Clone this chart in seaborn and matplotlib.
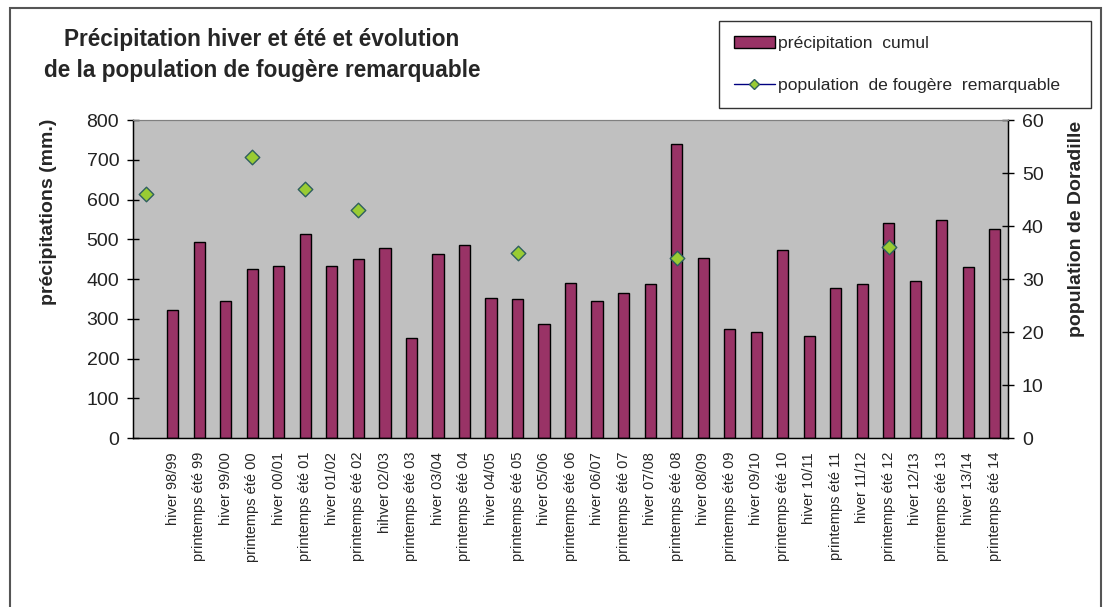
import numpy as np
import matplotlib
matplotlib.use("Agg")
import matplotlib.pyplot as plt
from matplotlib.patches import Patch, Rectangle
from matplotlib.lines import Line2D
import seaborn as sns

# categories (first slot is empty, only holds a population point)
periods = ["", "hiver 98/99", "printemps été 99", "hiver 99/00", "printemps été 00",
           "hiver 00/01", "printemps été 01", "hiver 01/02", "printemps été 02",
           "hihver 02/03", "printemps été 03", "hiver 03/04", "printemps été 04",
           "hiver 04/05", "printemps été 05", "hiver 05/06", "printemps été 06",
           "hiver 06/07", "printemps été 07", "hiver 07/08", "printemps été 08",
           "hiver 08/09", "printemps été 09", "hiver 09/10", "printemps été 10",
           "hiver 10/11", "printemps été 11", "hiver 11/12", "printemps été 12",
           "hiver 12/13", "printemps été 13", "hiver 13/14", "printemps été 14"]
precip = [np.nan, 322, 494, 344, 426, 433, 512, 433, 450, 479, 252, 463, 485,
          352, 349, 288, 390, 344, 366, 387, 740, 454, 273, 267, 472, 257,
          377, 387, 540, 395, 549, 429, 527]
pop_periods = ["", "printemps été 00", "printemps été 01", "printemps été 02",
               "printemps été 05", "printemps été 08", "printemps été 12"]
pop_values = [46, 53, 47, 43, 35, 34, 36]

bar_color = "#993366"
pt_color = "#99CC33"
pt_edge = "#2F5F5F"

sns.set_style("white")
plt.rcParams["font.family"] = ["Liberation Sans", "DejaVu Sans"]

fig = plt.figure(figsize=(11.06, 6.07), dpi=100)
ax = fig.add_axes([0.1203, 0.2784, 0.7911, 0.5239])
ax.set_facecolor("#C0C0C0")

sns.barplot(x=periods, y=precip, order=periods, color=bar_color, saturation=1,
            width=0.42, edgecolor="black", linewidth=1, ax=ax)

n = len(periods)
ax.set_xlim(-0.5, n - 0.5)
ax.set_ylim(0, 800)
ax.set_yticks(range(0, 801, 100))
ax.set_xticks(range(n))
ax.set_xticklabels(periods, rotation=90, fontsize=10.5, va="top", ha="center")
ax.set_xticks(np.arange(n + 1) - 0.5, minor=True)
ax.tick_params(axis="x", which="major", length=0, pad=10)
ax.tick_params(axis="x", which="minor", length=7, direction="inout", width=1, color="black")
ax.tick_params(axis="y", length=8, direction="inout", width=1, color="black", labelsize=14,
               labelcolor="#222222", pad=6)
ax.set_ylabel("précipitations (mm.)", fontsize=14, fontweight="bold")
ax.yaxis.set_label_coords(-0.087, 0.712)
ax.set_xlabel("")
for s in ["left", "bottom", "right"]:
    ax.spines[s].set_color("black")
    ax.spines[s].set_linewidth(1)
ax.spines["top"].set_color("#808080")

ax2 = ax.twinx()
pop_x = [periods.index(p) for p in pop_periods]
sns.scatterplot(x=pop_x, y=pop_values, marker="D", s=55, color=pt_color,
                edgecolor=pt_edge, linewidth=1, ax=ax2, zorder=5)
ax2.set_ylim(0, 60)
ax2.set_yticks(range(0, 61, 10))
ax2.tick_params(axis="y", length=8, direction="inout", width=1, color="black", labelsize=14,
                labelcolor="#222222", pad=6)
ax2.set_ylabel("population de Doradille", fontsize=14, fontweight="bold")
ax2.yaxis.set_label_coords(1.068, 0.657)
ax2.set_xlim(-0.5, n - 0.5)
for s in ["left", "bottom", "right"]:
    ax2.spines[s].set_color("black")
ax2.spines["top"].set_color("#808080")

fig.text(0.237, 0.909, "Précipitation hiver et été et évolution\nde la population de fougère remarquable",
         ha="center", va="center", fontsize=16.3, fontweight="bold", linespacing=1.45)

handles = [Patch(facecolor=bar_color, edgecolor="black", linewidth=1),
           Line2D([0], [0], color="#000080", lw=1, marker="D", markersize=5,
                  markerfacecolor=pt_color, markeredgecolor=pt_edge)]
leg = fig.legend(handles, ["précipitation  cumul", "population  de fougère  remarquable"],
                 loc="upper left", bbox_to_anchor=(0.650, 0.824, 0.336, 0.141), mode="expand",
                 fontsize=12.6, frameon=True, fancybox=False, edgecolor="black",
                 handlelength=2.35, handleheight=0.7, handletextpad=0.15,
                 labelspacing=1.5, borderpad=0.85, borderaxespad=0)
leg.get_frame().set_linewidth(1)

# chart area border
fig.patches.append(Rectangle((10 / 1106, -0.05), 1091 / 1106, 1.05 - 8 / 607,
                             transform=fig.transFigure, fill=False,
                             edgecolor="#555555", linewidth=1.5))

fig.savefig("out.png", dpi=100)
